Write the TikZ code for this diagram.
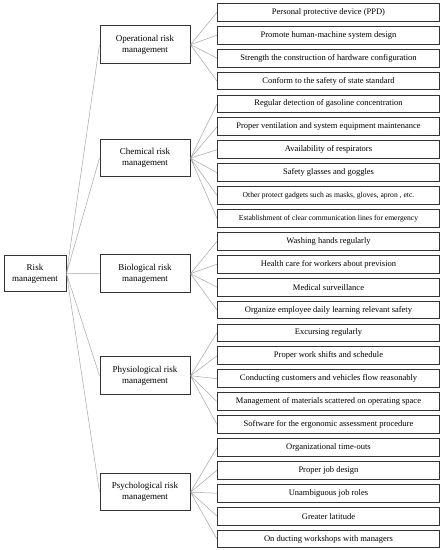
\documentclass[tikz,border=0pt]{standalone}
\usepackage{fontspec}
\setmainfont{Liberation Serif}
\usetikzlibrary{positioning, calc}

\begin{document}
\begin{tikzpicture}[x=1pt, y=-1pt, node distance=4.1pt,
  leaf/.style={draw=black!80, line width=1pt, rectangle, minimum width=222pt, minimum height=17.8pt, inner sep=0pt, font=\fontsize{8.5}{10}\selectfont},
  leafsmall/.style={leaf, font=\fontsize{7.6}{9}\selectfont},
  group/.style={draw=black!80, line width=1pt, rectangle, minimum width=90pt, minimum height=37.5pt, inner sep=1pt, align=center, font=\fontsize{9}{11}\selectfont},
  link/.style={gray!70, line width=0.5pt}]
\useasboundingbox (0,0) rectangle (443,550);

% Measures, one column of leaves
\node[leaf] (op1) at (328.5,12.3) {Personal protective device (PPD)};
\node[leaf, below=of op1] (op2) {Promote human-machine system design};
\node[leaf, below=of op2] (op3) {Strength the construction of hardware configuration};
\node[leaf, below=of op3] (op4) {Conform to the safety of state standard};
\node[leaf, below=of op4] (ch1) {Regular detection of gasoline concentration};
\node[leaf, below=of ch1] (ch2) {Proper ventilation and system equipment maintenance};
\node[leaf, below=of ch2] (ch3) {Availability of respirators};
\node[leaf, below=of ch3] (ch4) {Safety glasses and goggles};
\node[leafsmall, below=of ch4] (ch5) {Other protect gadgets such as masks, gloves, apron , etc.};
\node[leafsmall, below=of ch5] (ch6) {Establishment of clear communication lines for emergency};
\node[leaf, below=of ch6] (bi1) {Washing hands regularly};
\node[leaf, below=of bi1] (bi2) {Health care for workers about prevision};
\node[leaf, below=of bi2] (bi3) {Medical surveillance};
\node[leaf, below=of bi3] (bi4) {Organize employee daily learning relevant safety};
\node[leaf, below=of bi4] (ph1) {Excursing regularly};
\node[leaf, below=of ph1] (ph2) {Proper work shifts and schedule};
\node[leaf, below=of ph2] (ph3) {Conducting customers and vehicles flow reasonably};
\node[leaf, below=of ph3] (ph4) {Management of materials scattered on operating space};
\node[leaf, below=of ph4] (ph5) {Software for the ergonomic assessment procedure};
\node[leaf, below=of ph5] (ps1) {Organizational time-outs};
\node[leaf, below=of ps1] (ps2) {Proper job design};
\node[leaf, below=of ps2] (ps3) {Unambiguous job roles};
\node[leaf, below=of ps3] (ps4) {Greater latitude};
\node[leaf, below=of ps4] (ps5) {On ducting workshops with managers};

% Risk groups, centred on their leaves
\node[group] (oper) at ($(op1.west)!0.5!(op4.west)+(-72,-2)$) {Operational risk\\management};
\node[group] (chem) at ($(ch1.west)!0.5!(ch6.west)+(-72,-3)$) {Chemical risk\\management};
\node[group] (bio) at ($(bi1.west)!0.5!(bi4.west)+(-72,-2)$) {Biological risk\\management};
\node[group] (phys) at ($(ph1.west)!0.5!(ph5.west)+(-72,-3)$) {Physiological risk\\management};
\node[group] (psych) at ($(ps1.west)!0.5!(ps5.west)+(-72,-1)$) {Psychological risk\\management};

% Root
\node[group, minimum width=62pt, minimum height=36.5pt, left=33pt of bio] (risk) {Risk\\management};

% Links
\draw[link] (risk.east) -- (oper.west) (risk.east) -- (chem.west) (risk.east) -- (bio.west) (risk.east) -- (phys.west) (risk.east) -- (psych.west);
\draw[link] (oper.east) -- (op1.west) (oper.east) -- (op2.west) (oper.east) -- (op3.west) (oper.east) -- (op4.west);
\draw[link] (chem.east) -- (ch1.west) (chem.east) -- (ch2.west) (chem.east) -- (ch3.west) (chem.east) -- (ch4.west) (chem.east) -- (ch5.west) (chem.east) -- (ch6.west);
\draw[link] (bio.east) -- (bi1.west) (bio.east) -- (bi2.west) (bio.east) -- (bi3.west) (bio.east) -- (bi4.west);
\draw[link] (phys.east) -- (ph1.west) (phys.east) -- (ph2.west) (phys.east) -- (ph3.west) (phys.east) -- (ph4.west) (phys.east) -- (ph5.west);
\draw[link] (psych.east) -- (ps1.west) (psych.east) -- (ps2.west) (psych.east) -- (ps3.west) (psych.east) -- (ps4.west) (psych.east) -- (ps5.west);
\end{tikzpicture}
\end{document}
